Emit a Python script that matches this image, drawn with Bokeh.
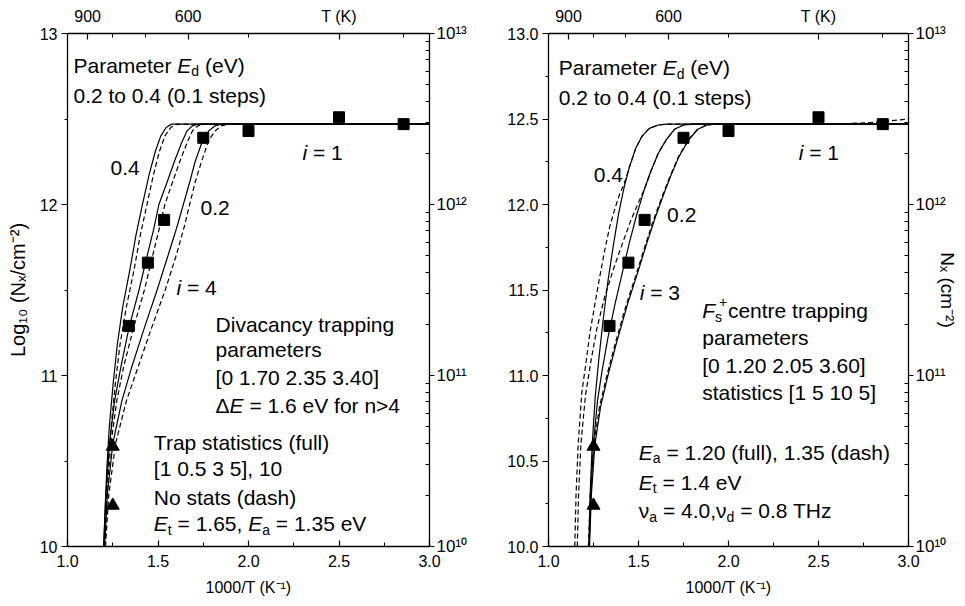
from bokeh.plotting import figure
from bokeh.layouts import row
from bokeh.models import Range1d, LinearAxis, LogAxis, LogScale, FixedTicker, Label, NumeralTickFormatter
from bokeh.embed import file_html
from bokeh.resources import INLINE

# ---------------- data ----------------
# measured points (same in both panels)
sq_x = [1.339, 1.444, 1.534, 1.750, 2.000, 2.500, 2.857]
sq_y = [11.29, 11.66, 11.91, 12.39, 12.43, 12.51, 12.47]
tri_x = [1.250, 1.250]
tri_y = [10.585, 10.24]

# left panel (divacancy): solid = full statistics, dashed = no stats; Ed = 0.4, 0.3, 0.2
L_S4_x = [1.200, 1.207, 1.217, 1.231, 1.252, 1.275, 1.305, 1.345, 1.378, 1.410, 1.450, 1.485, 1.515, 1.545, 1.575, 3.0]
L_S4_y = [10.00, 10.20, 10.45, 10.70, 10.95, 11.18, 11.40, 11.62, 11.82, 11.98, 12.17, 12.31, 12.40, 12.45, 12.47, 12.47]
L_D4_x = [1.203, 1.211, 1.222, 1.241, 1.264, 1.290, 1.325, 1.368, 1.402, 1.435, 1.474, 1.508, 1.538, 1.570, 1.605, 3.0]
L_D4_y = [10.00, 10.20, 10.45, 10.70, 10.95, 11.18, 11.40, 11.62, 11.82, 11.98, 12.17, 12.31, 12.40, 12.45, 12.47, 12.47]
L_S3_x = [1.200, 1.212, 1.232, 1.260, 1.295, 1.340, 1.395, 1.440, 1.475, 1.505, 1.550, 1.590, 1.630, 1.660, 1.690, 1.720, 3.0]
L_S3_y = [10.00, 10.30, 10.60, 10.85, 11.05, 11.28, 11.50, 11.70, 11.85, 12.00, 12.13, 12.25, 12.36, 12.43, 12.46, 12.47, 12.47]
L_D3_x = [1.205, 1.217, 1.240, 1.272, 1.310, 1.365, 1.425, 1.470, 1.505, 1.538, 1.580, 1.620, 1.660, 1.690, 1.720, 1.750, 3.0]
L_D3_y = [10.00, 10.30, 10.60, 10.85, 11.05, 11.28, 11.50, 11.70, 11.85, 12.00, 12.13, 12.25, 12.36, 12.43, 12.46, 12.47, 12.47]
L_S2_x = [1.205, 1.220, 1.250, 1.300, 1.355, 1.425, 1.495, 1.555, 1.605, 1.640, 1.675, 1.705, 1.745, 1.780, 1.815, 1.850, 3.0]
L_S2_y = [10.00, 10.30, 10.60, 10.85, 11.05, 11.28, 11.50, 11.70, 11.87, 12.00, 12.13, 12.25, 12.37, 12.43, 12.46, 12.47, 12.47]
L_D2_x = [1.210, 1.228, 1.265, 1.325, 1.390, 1.465, 1.540, 1.600, 1.645, 1.675, 1.705, 1.740, 1.778, 1.815, 1.850, 1.885, 3.0]
L_D2_y = [10.00, 10.30, 10.60, 10.85, 11.05, 11.28, 11.50, 11.70, 11.87, 12.00, 12.13, 12.25, 12.37, 12.43, 12.46, 12.47, 12.47]

# right panel (Fs+ centre): solid Ea = 1.20, dashed Ea = 1.35
R_S4_x = [1.224, 1.231, 1.243, 1.260, 1.280, 1.303, 1.330, 1.360, 1.390, 1.420, 1.450, 1.485, 1.520, 1.560, 1.610, 1.660, 3.0]
R_S4_y = [10.00, 10.30, 10.60, 10.88, 11.10, 11.32, 11.55, 11.76, 11.95, 12.10, 12.22, 12.33, 12.40, 12.445, 12.465, 12.47, 12.47]
R_S3_x = [1.226, 1.235, 1.250, 1.272, 1.298, 1.330, 1.370, 1.410, 1.450, 1.490, 1.530, 1.567, 1.610, 1.655, 1.700, 1.750, 1.800, 3.0]
R_S3_y = [10.00, 10.30, 10.60, 10.85, 11.03, 11.22, 11.42, 11.60, 11.78, 11.94, 12.08, 12.19, 12.30, 12.38, 12.44, 12.465, 12.47, 12.47]
R_S2_x = [1.228, 1.238, 1.258, 1.290, 1.330, 1.380, 1.440, 1.495, 1.545, 1.595, 1.640, 1.680, 1.725, 1.780, 1.830, 1.880, 1.930, 3.0]
R_S2_y = [10.00, 10.30, 10.60, 10.82, 11.00, 11.20, 11.42, 11.60, 11.77, 11.93, 12.06, 12.17, 12.28, 12.38, 12.44, 12.465, 12.47, 12.47]
R_D4_x = [1.146, 1.153, 1.165, 1.185, 1.205, 1.230, 1.255, 1.280, 1.310, 1.340, 1.370, 1.395, 1.420, 1.450, 1.485, 1.520, 1.560, 1.610, 1.660, 3.0]
R_D4_y = [10.00, 10.30, 10.60, 10.90, 11.05, 11.25, 11.40, 11.55, 11.72, 11.87, 11.98, 12.06, 12.12, 12.22, 12.33, 12.40, 12.445, 12.465, 12.47, 12.47]
R_D3_x = [1.160, 1.167, 1.180, 1.205, 1.235, 1.270, 1.312, 1.360, 1.410, 1.455, 1.495, 1.533, 1.567, 1.610, 1.655, 1.700, 1.750, 1.800, 3.0]
R_D3_y = [10.00, 10.30, 10.60, 10.88, 11.08, 11.28, 11.46, 11.62, 11.77, 11.90, 12.00, 12.09, 12.19, 12.30, 12.38, 12.44, 12.465, 12.47, 12.47]
R_D2_x = [1.222, 1.232, 1.252, 1.284, 1.324, 1.374, 1.434, 1.490, 1.540, 1.590, 1.636, 1.677, 1.722, 1.778, 1.828, 1.878, 1.930, 2.600, 2.800, 3.000]
R_D2_y = [10.00, 10.30, 10.60, 10.82, 11.00, 11.20, 11.42, 11.60, 11.77, 11.93, 12.06, 12.17, 12.28, 12.38, 12.44, 12.465, 12.47, 12.47, 12.48, 12.50]

# axes ticks
x_major = [1.0, 1.5, 2.0, 2.5, 3.0]
x_minor = [1.25, 1.75, 2.25, 2.75]
T_major = [900, 600, 400]
T_labels = ["900", "600", "T (K)"]
T_minor = [800, 700, 500, 350]
yL_major = [10, 11, 12, 13]
yL_minor = [10.5, 11.5, 12.5]
yR_major = [10.0, 10.5, 11.0, 11.5, 12.0, 12.5, 13.0]
yR_minor = [10.25, 10.75, 11.25, 11.75, 12.25, 12.75]
N_major = [1e10, 1e11, 1e12, 1e13]
N_labels = ["10\u00b9\u2070", "10\u00b9\u00b9", "10\u00b9\u00b2", "10\u00b9\u00b3"]
N_minor = [k * 10.0 ** e for e in (10, 11, 12) for k in range(2, 10)]

FONT = "Liberation Sans"
TXT = 21
SUB = 14

# Arial / Liberation Sans advance widths (1/1000 em)
W = {' ': 278, '(': 333, ')': 333, '+': 584, ',': 278, '-': 333, '.': 278, '/': 278, '=': 584,
     '>': 584, '[': 278, ']': 278, ':': 278, '\u0394': 668, '\u03bd': 500}
for c in "0123456789":
    W[c] = 556
W.update(dict(zip("ABCDEFGHIJKLMNOPQRSTUVWXYZ",
                  [667, 667, 722, 722, 667, 611, 778, 722, 278, 500, 667, 556, 833, 722, 778, 667, 778, 722, 667, 611, 722, 667, 944, 667, 667, 611])))
W.update(dict(zip("abcdefghijklmnopqrstuvwxyz",
                  [556, 556, 500, 556, 556, 278, 556, 556, 222, 222, 500, 222, 833, 556, 556, 556, 556, 333, 500, 278, 556, 500, 722, 500, 500, 500])))


def tw(s, size):
    return sum(W.get(c, 556) for c in s) / 1000.0 * size


def rich(p, x0, y0, segs, xpp, ypp):
    adv = 0.0
    for seg in segs:
        text, size, style, dy = seg[:4]
        advance = seg[4] if len(seg) > 4 else True
        body = text.lstrip(" ")
        lead = tw(text[:len(text) - len(body)], size)
        p.add_layout(Label(x=x0 + (adv + lead) * xpp, y=y0 + dy * ypp, text=body, text_font=FONT,
                           text_font_size=f"{size}px", text_font_style=style, text_color="black",
                           text_baseline="alphabetic", text_align="left"))
        if advance:
            adv += tw(text, size)


def plain(t):
    return [(t, TXT, "normal", 0)]


def make_fig(frame_w, bl, br, y_major, y_minor, yfmt, left_label, right_label):
    p = figure(frame_width=frame_w, frame_height=513, x_range=Range1d(1.0, 3.0), y_range=Range1d(10.0, 13.0),
               output_backend="svg", toolbar_location=None,
               min_border_left=bl, min_border_right=br, min_border_top=33, min_border_bottom=58)
    p.xgrid.visible = False
    p.ygrid.visible = False
    p.outline_line_color = "black"
    p.background_fill_color = "white"
    p.border_fill_color = "white"

    xa = p.xaxis[0]
    xa.ticker = FixedTicker(ticks=x_major, minor_ticks=x_minor)
    xa.formatter = NumeralTickFormatter(format="0.0")
    xa.major_tick_in, xa.major_tick_out = 6, 0
    xa.minor_tick_in, xa.minor_tick_out = 4, 0
    xa.major_label_standoff = 8
    xa.axis_label = "1000/T (K\u207b\u00b9)"
    xa.axis_label_standoff = 9

    ya = p.yaxis[0]
    ya.ticker = FixedTicker(ticks=y_major, minor_ticks=y_minor)
    ya.formatter = NumeralTickFormatter(format=yfmt)
    ya.major_tick_in, ya.major_tick_out = 0, 6
    ya.minor_tick_in, ya.minor_tick_out = 0, 3
    ya.major_label_standoff = 4
    if left_label:
        ya.axis_label = "Log\u2081\u2080 (N\u2093/cm\u207b\u00b2)"
        ya.axis_label_standoff = 8

    ta = LinearAxis(ticker=FixedTicker(ticks=[1000.0 / t for t in T_major],
                                       minor_ticks=[1000.0 / t for t in T_minor]))
    ta.major_label_overrides = {1000.0 / t: lab for t, lab in zip(T_major, T_labels)}
    ta.major_tick_in, ta.major_tick_out = 6, 0
    ta.minor_tick_in, ta.minor_tick_out = 4, 0
    ta.major_label_standoff = 9
    p.add_layout(ta, "above")

    p.extra_y_ranges = {"N": Range1d(1e10, 1e13)}
    p.extra_y_scales = {"N": LogScale()}
    ra = LogAxis(y_range_name="N", ticker=FixedTicker(ticks=N_major, minor_ticks=N_minor))
    ra.major_label_overrides = {v: lab for v, lab in zip(N_major, N_labels)}
    ra.major_tick_in, ra.major_tick_out = 0, 5
    ra.minor_tick_in, ra.minor_tick_out = 4, 0
    ra.major_label_standoff = 2
    if right_label:
        ra.axis_label = "N\u2093 (cm\u207b\u00b2)"
        ra.axis_label_standoff = -12
        ra.axis_label_text_font_size = "19px"
    p.add_layout(ra, "right")

    for ax in [xa, ya, ta, ra]:
        ax.axis_line_color = "black"
        ax.axis_line_width = 1.3
        ax.major_tick_line_color = "black"
        ax.minor_tick_line_color = "black"
        ax.major_tick_line_width = 1.2
        ax.minor_tick_line_width = 1.0
        ax.major_label_text_font = FONT
        ax.major_label_text_font_size = "16px"
        ax.major_label_text_color = "black"
        ax.axis_label_text_font = FONT
        ax.axis_label_text_font_style = "normal"
        ax.axis_label_text_color = "black"
    ra.major_label_text_font_size = "17px"
    xa.axis_label_text_font_size = "16px"
    ya.axis_label_text_font_size = "20px"
    return p


def add_data(p, solids, dashes):
    for xs, ys in solids:
        p.line(xs, ys, line_color="black", line_width=1.2)
    for xs, ys in dashes:
        p.line(xs, ys, line_color="black", line_width=1.2, line_dash="5 3")
    p.scatter(sq_x, sq_y, marker="square", size=11, fill_color="black", line_color="black")
    p.scatter(tri_x, tri_y, marker="triangle", size=13, fill_color="black", line_color="black")


# ---------------- left panel ----------------
pL = make_fig(362, 67, 45, yL_major, yL_minor, "0", True, False)
add_data(pL, [(L_S4_x, L_S4_y), (L_S3_x, L_S3_y), (L_S2_x, L_S2_y)],
         [(L_D4_x, L_D4_y), (L_D3_x, L_D3_y), (L_D2_x, L_D2_y)])
xppL, ypp = 2.0 / 362, 3.0 / 513
rich(pL, 1.033, 12.813, [("Parameter ", TXT, "normal", 0), ("E", TXT, "italic", 0), ("d", SUB, "normal", -6),
                         (" (eV)", TXT, "normal", 0)], xppL, ypp)
rich(pL, 1.033, 12.637, plain("0.2 to 0.4 (0.1 steps)"), xppL, ypp)
rich(pL, 1.238, 12.216, plain("0.4"), xppL, ypp)
rich(pL, 2.298, 12.304, [("i", TXT, "italic", 0), (" = 1", TXT, "normal", 0)], xppL, ypp)
rich(pL, 1.735, 11.980, plain("0.2"), xppL, ypp)
rich(pL, 1.602, 11.517, [("i", TXT, "italic", 0), (" = 4", TXT, "normal", 0)], xppL, ypp)
rich(pL, 1.818, 11.300, plain("Divacancy trapping"), xppL, ypp)
rich(pL, 1.818, 11.150, plain("parameters"), xppL, ypp)
rich(pL, 1.818, 10.988, plain("[0 1.70 2.35 3.40]"), xppL, ypp)
rich(pL, 1.818, 10.825, [("\u0394", TXT, "normal", 0), ("E", TXT, "italic", 0),
                         (" = 1.6 eV for n>4", TXT, "normal", 0)], xppL, ypp)
rich(pL, 1.477, 10.610, plain("Trap statistics (full)"), xppL, ypp)
rich(pL, 1.477, 10.454, plain("[1 0.5 3 5], 10"), xppL, ypp)
rich(pL, 1.477, 10.288, plain("No stats (dash)"), xppL, ypp)
rich(pL, 1.477, 10.133, [("E", TXT, "italic", 0), ("t", SUB, "normal", -6), (" = 1.65, ", TXT, "normal", 0),
                         ("E", TXT, "italic", 0), ("a", SUB, "normal", -6), (" = 1.35 eV", TXT, "normal", 0)],
     xppL, ypp)

# ---------------- right panel ----------------
pR = make_fig(360, 74, 57, yR_major, yR_minor, "0.0", False, True)
add_data(pR, [(R_S4_x, R_S4_y), (R_S3_x, R_S3_y), (R_S2_x, R_S2_y)],
         [(R_D4_x, R_D4_y), (R_D3_x, R_D3_y), (R_D2_x, R_D2_y)])
xppR = 2.0 / 360
rich(pR, 1.057, 12.800, [("Parameter ", TXT, "normal", 0), ("E", TXT, "italic", 0), ("d", SUB, "normal", -6),
                         (" (eV)", TXT, "normal", 0)], xppR, ypp)
rich(pR, 1.057, 12.628, plain("0.2 to 0.4 (0.1 steps)"), xppR, ypp)
rich(pR, 1.252, 12.170, plain("0.4"), xppR, ypp)
rich(pR, 2.390, 12.306, [("i", TXT, "italic", 0), (" = 1", TXT, "normal", 0)], xppR, ypp)
rich(pR, 1.659, 11.936, plain("0.2"), xppR, ypp)
rich(pR, 1.507, 11.487, [("i", TXT, "italic", 0), (" = 3", TXT, "normal", 0)], xppR, ypp)
rich(pR, 1.854, 11.380, [("F", TXT, "italic", 0), (" +", SUB, "normal", 9, False), ("s", SUB, "normal", -6),
                         (" centre trapping", TXT, "normal", 0)], xppR, ypp)
rich(pR, 1.854, 11.224, plain("parameters"), xppR, ypp)
rich(pR, 1.854, 11.058, plain("[0 1.20 2.05 3.60]"), xppR, ypp)
rich(pR, 1.854, 10.900, plain("statistics [1 5 10 5]"), xppR, ypp)
rich(pR, 1.502, 10.550, [("E", TXT, "italic", 0), ("a", SUB, "normal", -6),
                         (" = 1.20 (full), 1.35 (dash)", TXT, "normal", 0)], xppR, ypp)
rich(pR, 1.502, 10.376, [("E", TXT, "italic", 0), ("t", SUB, "normal", -6), (" = 1.4 eV", TXT, "normal", 0)],
     xppR, ypp)
rich(pR, 1.502, 10.210, [("\u03bd", TXT, "normal", 0), ("a", SUB, "normal", -6), (" = 4.0,", TXT, "normal", 0),
                         ("\u03bd", TXT, "normal", 0), ("d", SUB, "normal", -6), (" = 0.8 THz", TXT, "normal", 0)],
     xppR, ypp)

layout = row(pL, pR)
open("out.html", "w").write(file_html(layout, INLINE))
